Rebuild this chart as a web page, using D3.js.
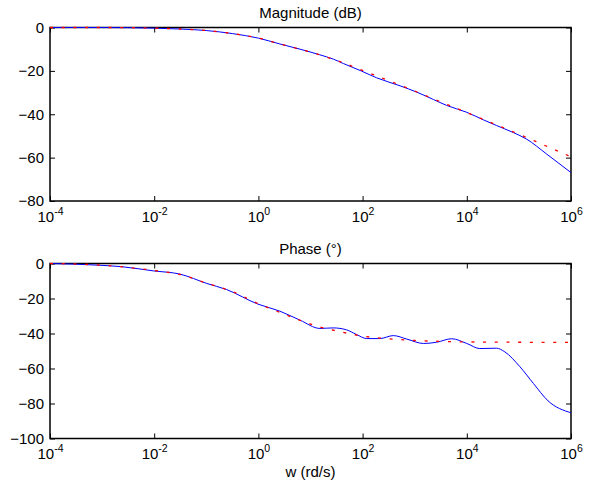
<!DOCTYPE html>
<html>
<head>
<meta charset="utf-8">
<script src="https://cdn.jsdelivr.net/npm/d3@7"></script>
<style>
    body { margin: 0; background: #fff; }
    text { font-family: 'Liberation Sans', Arial, sans-serif; }
</style>
</head>
<body>
<div id="chart"></div>
<script>
// Frequency grid (log10 of w) and values
const magW = [-4, -3, -2, -1.5, -1, -0.5, 0, 0.4, 0.8, 1.18, 1.44, 1.63, 1.98, 2.27, 2.72, 3.04, 3.36, 3.61, 4.0, 4.32, 4.57, 4.89, 5.15, 5.53, 6];
const magReal = [0, 0, -0.3, -0.7, -1.4, -2.8, -4.9, -7.5, -10, -12.6, -14.6, -16.6, -20.1, -23.2, -26.9, -29.8, -33.2, -35.9, -39.1, -42.6, -45.2, -48.4, -51.5, -58.3, -66.9];

const magIdealW = [-4, -3, -2, -1.5, -1, -0.5, 0, 0.4, 0.8, 1.2, 1.6, 2, 2.5, 3, 3.5, 4, 4.5, 5, 5.5, 6];
const magIdeal = [0, 0, -0.3, -0.7, -1.4, -2.8, -4.9, -7.5, -10, -12.8, -16, -19.8, -24.5, -29.3, -34.3, -39.2, -44.2, -49.2, -54.4, -59.6];

const phaseW = [-4, -3.04, -2.6, -2.02, -1.5, -0.99, -0.61, -0.01, 0.41, 0.8, 1.18, 1.44, 1.69, 1.88, 2.08, 2.33, 2.59, 2.85, 3.17, 3.42, 3.71, 4.0, 4.25, 4.57, 4.73, 5.02, 5.28, 5.56, 6];
const phaseReal = [0, -1, -1.9, -4.2, -6.1, -11.4, -14.9, -23.2, -27.2, -32.4, -37.1, -36.8, -37.9, -40.5, -42.9, -42.9, -41.2, -43.2, -45.7, -45, -43, -45.7, -48.6, -48.4, -50.5, -59, -68.6, -78.5, -85.3];

const phaseIdealW = [-4, -3, -2, -1.5, -1, -0.5, 0, 0.5, 0.8, 1.2, 1.5, 2, 2.5, 3, 3.5, 4, 5, 6];
const phaseIdeal = [0, -1, -4, -6.3, -11.2, -16, -23, -29, -32.5, -36.5, -38.5, -41.5, -43, -44, -44.5, -44.8, -45, -45.1];

// Tick values
const xTicks = [-4, -2, 0, 2, 4, 6];
const magTicks = [0, -20, -40, -60, -80];
const phaseTicks = [0, -20, -40, -60, -80, -100];

// SVG dimensions
const W = 605, H = 488;
const left = 50, right = 571;
const width = right - left;

const svg = d3.select('#chart')
    .append('svg')
    .attr('width', W)
    .attr('height', H);

const xScale = d3.scaleLog()
    .domain([1e-4, 1e6])
    .range([0, width]);

// Draw one panel (magnitude or phase)
const panel = (top, height, yDomain, yTicks, title, realW, real, idealW, ideal) => {
    const g = svg.append('g')
        .attr('transform', `translate(${left}, ${top})`);

    const yScale = d3.scaleLinear()
        .domain(yDomain)
        .range([height, 0]);

    // Left axis with labels, ticks inward
    g.append('g')
        .style('font-size', '15px')
        .call(d3.axisLeft(yScale).tickValues(yTicks).tickSize(-5).tickSizeOuter(0).tickPadding(6))
        .call(a => a.select('.domain').remove());

    // Right axis ticks only
    g.append('g')
        .attr('transform', `translate(${width}, 0)`)
        .call(d3.axisRight(yScale).tickValues(yTicks).tickSize(-5).tickSizeOuter(0).tickFormat(''))
        .call(a => a.select('.domain').remove());

    // Bottom axis with 10^n labels
    const xAxis = g.append('g')
        .attr('transform', `translate(0, ${height})`)
        .style('font-size', '15px')
        .call(d3.axisBottom(xScale).tickValues(xTicks.map(d => Math.pow(10, d))).tickSize(-5).tickSizeOuter(0).tickPadding(10).tickFormat(() => ''))
        .call(a => a.select('.domain').remove());

    xAxis.selectAll('.tick text')
        .text('10')
        .append('tspan')
        .attr('dy', '-7')
        .style('font-size', '10.5px')
        .text((d, i) => xTicks[i]);

    // Top axis ticks only
    g.append('g')
        .call(d3.axisTop(xScale).tickValues(xTicks.map(d => Math.pow(10, d))).tickSize(-5).tickSizeOuter(0).tickFormat(''))
        .call(a => a.select('.domain').remove());

    g.selectAll('.tick line').attr('stroke', '#000');

    // Frame
    g.append('rect')
        .attr('width', width)
        .attr('height', height)
        .attr('fill', 'none')
        .attr('stroke', '#000')
        .attr('stroke-width', 1.5);

    const line = d3.line()
        .x(d => xScale(Math.pow(10, d[0])))
        .y(d => yScale(d[1]))
        .curve(d3.curveMonotoneX);

    // Real response (blue)
    g.append('path')
        .datum(realW.map((w, i) => [w, real[i]]))
        .attr('d', line)
        .attr('fill', 'none')
        .attr('stroke', '#0000ff')
        .attr('stroke-width', 1);

    // Ideal response (red dotted)
    g.append('path')
        .datum(idealW.map((w, i) => [w, ideal[i]]))
        .attr('d', line)
        .attr('fill', 'none')
        .attr('stroke', '#ff0000')
        .attr('stroke-width', 1.3)
        .attr('stroke-dasharray', '3,8.7');

    // Title
    g.append('text')
        .attr('x', width / 2)
        .attr('y', -10)
        .attr('text-anchor', 'middle')
        .style('font-size', '15px')
        .text(title);

    return g;
};

panel(27.5, 173.5, [-80, 0], magTicks, 'Magnitude (dB)', magW, magReal, magIdealW, magIdeal);
const ph = panel(263.5, 175, [-100, 0], phaseTicks, 'Phase (°)', phaseW, phaseReal, phaseIdealW, phaseIdeal);

// X label
ph.append('text')
    .attr('x', width / 2)
    .attr('y', 213)
    .attr('text-anchor', 'middle')
    .style('font-size', '15px')
    .text('w (rd/s)');
</script>
</body>
</html>
